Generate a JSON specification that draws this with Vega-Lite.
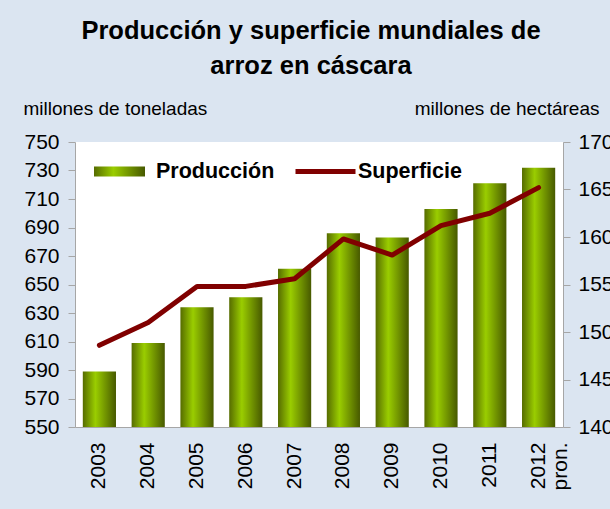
{
  "$schema": "https://vega.github.io/schema/vega-lite/v6.json",
  "width": 488,
  "height": 285,
  "autosize": {"type": "none"},
  "padding": {"left": 75, "top": 142, "right": 47, "bottom": 82},
  "background": "#dbe5f1",
  "title": {
    "text": ["Producción y superficie mundiales de", "arroz en cáscara"],
    "font": "Liberation Sans",
    "fontSize": 25.5,
    "fontWeight": "bold",
    "lineHeight": 35,
    "anchor": "middle",
    "frame": "group",
    "dx": -8,
    "offset": 20,
    "color": "#000000"
  },
  "data": {
    "values": [
      {"year": "2003", "prod": 589, "sup": 148.6},
      {"year": "2004", "prod": 609, "sup": 151.0},
      {"year": "2005", "prod": 634, "sup": 154.8},
      {"year": "2006", "prod": 641, "sup": 154.8},
      {"year": "2007", "prod": 661, "sup": 155.6},
      {"year": "2008", "prod": 686, "sup": 159.8},
      {"year": "2009", "prod": 683, "sup": 158.1},
      {"year": "2010", "prod": 703, "sup": 161.2},
      {"year": "2011", "prod": 721, "sup": 162.5},
      {"year": "2012 pron.", "prod": 732, "sup": 165.2}
    ]
  },
  "encoding": {
    "x": {
      "field": "year",
      "type": "ordinal",
      "sort": null,
      "scale": {"paddingInner": 0.32, "paddingOuter": 0.16},
      "axis": {
        "title": null,
        "labelAngle": 270,
        "labelFontSize": 21,
        "labelPadding": 15,
        "ticks": false,
        "tickSize": 0,
        "labelLineHeight": 22,
        "labelExpr": "datum.value == '2012 pron.' ? ['2012', 'pron.'] : datum.value"
      }
    }
  },
  "layer": [
    {
      "mark": {
        "type": "bar",
        "clip": true,
        "fill": {
          "gradient": "linear",
          "x1": 0, "y1": 0, "x2": 1, "y2": 0,
          "stops": [
            {"offset": 0, "color": "#566c00"},
            {"offset": 0.38, "color": "#9acd00"},
            {"offset": 1, "color": "#475900"}
          ]
        }
      },
      "encoding": {
        "y": {
          "field": "prod",
          "type": "quantitative",
          "scale": {"domain": [550, 750], "nice": false, "zero": false},
          "axis": {
            "values": [550, 570, 590, 610, 630, 650, 670, 690, 710, 730, 750],
            "title": "millones de toneladas",
            "titleAngle": 0,
            "titleAlign": "left",
            "titleBaseline": "middle",
            "titleX": -52,
            "titleY": -34,
            "labelPadding": 9
          }
        },
        "opacity": {
          "datum": "Producción",
          "type": "nominal",
          "scale": {"type": "ordinal", "domain": ["Producción"], "range": [1]},
          "legend": {
            "orient": "none",
            "legendX": 19,
            "legendY": 4,
            "title": null,
            "padding": 0,
            "symbolType": "M-1,-0.196H1V0.196H-1Z",
            "symbolSize": 2601,
            "symbolStrokeWidth": 0,
            "labelFont": "Liberation Sans",
            "labelFontSize": 21.5,
            "labelFontWeight": "bold",
            "labelColor": "#000000",
            "labelOffset": 11
          }
        }
      }
    },
    {
      "mark": {"type": "line", "strokeWidth": 5, "strokeCap": "round", "strokeJoin": "round"},
      "encoding": {
        "y": {
          "field": "sup",
          "type": "quantitative",
          "scale": {"domain": [140, 170], "nice": false, "zero": false},
          "axis": {
            "orient": "right",
            "values": [140, 145, 150, 155, 160, 165, 170],
            "title": "millones de hectáreas",
            "titleAngle": 0,
            "titleAlign": "right",
            "titleBaseline": "middle",
            "titleX": 36,
            "titleY": -34,
            "labelPadding": 8
          }
        },
        "stroke": {
          "datum": "Superficie",
          "scale": {"domain": ["Superficie"], "range": ["#800000"]},
          "legend": {
            "orient": "none",
            "legendX": 218,
            "legendY": -3,
            "title": null,
            "padding": 0,
            "symbolType": "stroke",
            "symbolSize": 3600,
            "symbolStrokeWidth": 5,
            "labelFont": "Liberation Sans",
            "labelFontSize": 21.5,
            "labelFontWeight": "bold",
            "labelColor": "#000000",
            "labelOffset": 0
          }
        }
      }
    }
  ],
  "resolve": {"scale": {"y": "independent"}},
  "config": {
    "view": {"fill": "#ffffff", "stroke": null},
    "axis": {
      "labelFont": "Liberation Sans",
      "labelFontSize": 21,
      "labelColor": "#000000",
      "titleFont": "Liberation Sans",
      "titleFontSize": 19,
      "titleFontWeight": "normal",
      "titleColor": "#000000",
      "domainColor": "#a6a6a6",
      "tickColor": "#a6a6a6",
      "tickSize": 7,
      "grid": false
    }
  }
}
